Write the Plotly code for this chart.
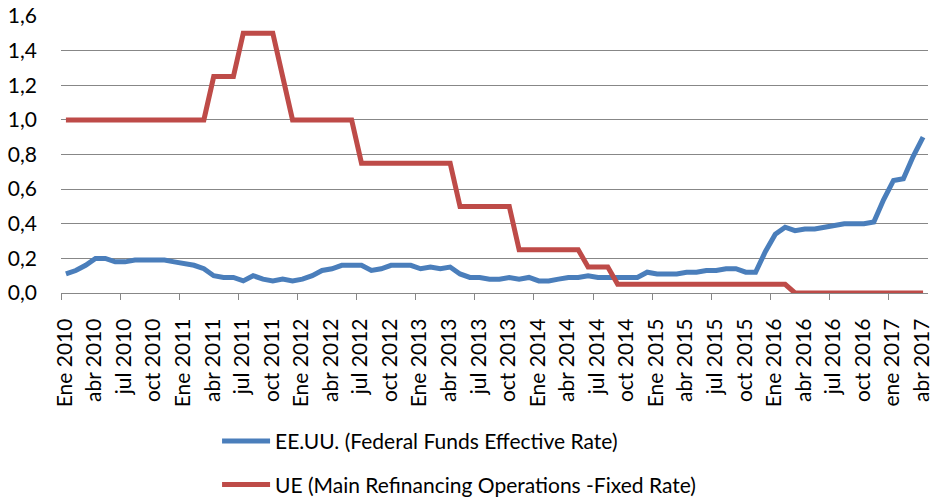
import plotly.graph_objects as go

# Tick labels (one every 3 months, Jan 2010 .. Apr 2017)
tick_labels = [
    "Ene 2010", "abr 2010", "jul 2010", "oct 2010",
    "Ene 2011", "abr 2011", "jul 2011", "oct 2011",
    "Ene 2012", "abr 2012", "jul 2012", "oct 2012",
    "Ene 2013", "abr 2013", "jul 2013", "oct 2013",
    "Ene 2014", "abr 2014", "jul 2014", "oct 2014",
    "Ene 2015", "abr 2015", "jul 2015", "oct 2015",
    "Ene 2016", "abr 2016", "jul 2016", "oct 2016",
    "ene 2017", "abr 2017",
]

# Monthly values, Jan 2010 .. Apr 2017 (88 months)
us_fed_funds = [
    0.11, 0.13, 0.16, 0.20, 0.20, 0.18, 0.18, 0.19, 0.19, 0.19, 0.19, 0.18,
    0.17, 0.16, 0.14, 0.10, 0.09, 0.09, 0.07, 0.10, 0.08, 0.07, 0.08, 0.07,
    0.08, 0.10, 0.13, 0.14, 0.16, 0.16, 0.16, 0.13, 0.14, 0.16, 0.16, 0.16,
    0.14, 0.15, 0.14, 0.15, 0.11, 0.09, 0.09, 0.08, 0.08, 0.09, 0.08, 0.09,
    0.07, 0.07, 0.08, 0.09, 0.09, 0.10, 0.09, 0.09, 0.09, 0.09, 0.09, 0.12,
    0.11, 0.11, 0.11, 0.12, 0.12, 0.13, 0.13, 0.14, 0.14, 0.12, 0.12, 0.24,
    0.34, 0.38, 0.36, 0.37, 0.37, 0.38, 0.39, 0.40, 0.40, 0.40, 0.41, 0.54,
    0.65, 0.66, 0.79, 0.90,
]

eu_mro = [
    1.00, 1.00, 1.00, 1.00, 1.00, 1.00, 1.00, 1.00, 1.00, 1.00, 1.00, 1.00,
    1.00, 1.00, 1.00, 1.25, 1.25, 1.25, 1.50, 1.50, 1.50, 1.50, 1.25, 1.00,
    1.00, 1.00, 1.00, 1.00, 1.00, 1.00, 0.75, 0.75, 0.75, 0.75, 0.75, 0.75,
    0.75, 0.75, 0.75, 0.75, 0.50, 0.50, 0.50, 0.50, 0.50, 0.50, 0.25, 0.25,
    0.25, 0.25, 0.25, 0.25, 0.25, 0.15, 0.15, 0.15, 0.05, 0.05, 0.05, 0.05,
    0.05, 0.05, 0.05, 0.05, 0.05, 0.05, 0.05, 0.05, 0.05, 0.05, 0.05, 0.05,
    0.05, 0.05, 0.00, 0.00, 0.00, 0.00, 0.00, 0.00, 0.00, 0.00, 0.00, 0.00,
    0.00, 0.00, 0.00, 0.00,
]

series_names = [
    "EE.UU. (Federal Funds Effective Rate)",
    "UE (Main Refinancing Operations -Fixed Rate)",
]

y_ticks = [0.0, 0.2, 0.4, 0.6, 0.8, 1.0, 1.2, 1.4, 1.6]

n = len(us_fed_funds)
x_idx = list(range(n))
label_step = 3
tick_positions = list(range(0, n, label_step))
major_tick_positions = [i - 0.5 for i in range(0, n + 1, 6)]

FONT = "Lato, Calibri, Carlito, sans-serif"
GRID = "#878787"

fig = go.Figure()
fig.add_trace(go.Scatter(
    x=x_idx, y=us_fed_funds, mode="lines", name=series_names[0],
    line=dict(color="#4A7EBB", width=5), legendgroup="a",
))
fig.add_trace(go.Scatter(
    x=x_idx, y=eu_mro, mode="lines", name=series_names[1],
    line=dict(color="#BE4B48", width=5), legendgroup="b",
))

fig.update_layout(
    width=932, height=500,
    margin=dict(l=61, r=4, t=16, b=207, autoexpand=False),
    paper_bgcolor="white", plot_bgcolor="white",
    font=dict(family=FONT, size=21, color="#000000"),
    showlegend=True,
    legend=dict(
        orientation="v", x=0.18, xanchor="left", y=-0.462, yanchor="top",
        font=dict(family=FONT, size=21, color="#000000"),
        tracegroupgap=13, itemwidth=48, bgcolor="rgba(0,0,0,0)",
    ),
    xaxis=dict(
        range=[-0.5, n - 0.5],
        tickmode="array", tickvals=tick_positions, ticktext=tick_labels,
        tickangle=-90, ticks="", showgrid=False, zeroline=False,
        showline=True, linecolor=GRID, linewidth=1.3,
        ticklabelstandoff=16, ticklabeloverflow="allow", automargin=False,
        ticklabelshift=-1,
        minor=dict(tickmode="array", tickvals=major_tick_positions,
                   ticks="outside", ticklen=6, tickcolor=GRID, tickwidth=1.3,
                   showgrid=False),
    ),
    yaxis=dict(
        range=[0, 1.6], tickmode="array", tickvals=y_ticks,
        ticktext=[f"{v:.1f}".replace(".", ",") for v in y_ticks],
        showgrid=True, gridcolor=GRID, gridwidth=1.3,
        zeroline=False, showline=False, ticks="",
        ticklabelstandoff=23, automargin=False,
    ),
)

fig.write_html("out.html",
               config={"displayModeBar": False},
               post_script="document.body.style.margin='0';")
